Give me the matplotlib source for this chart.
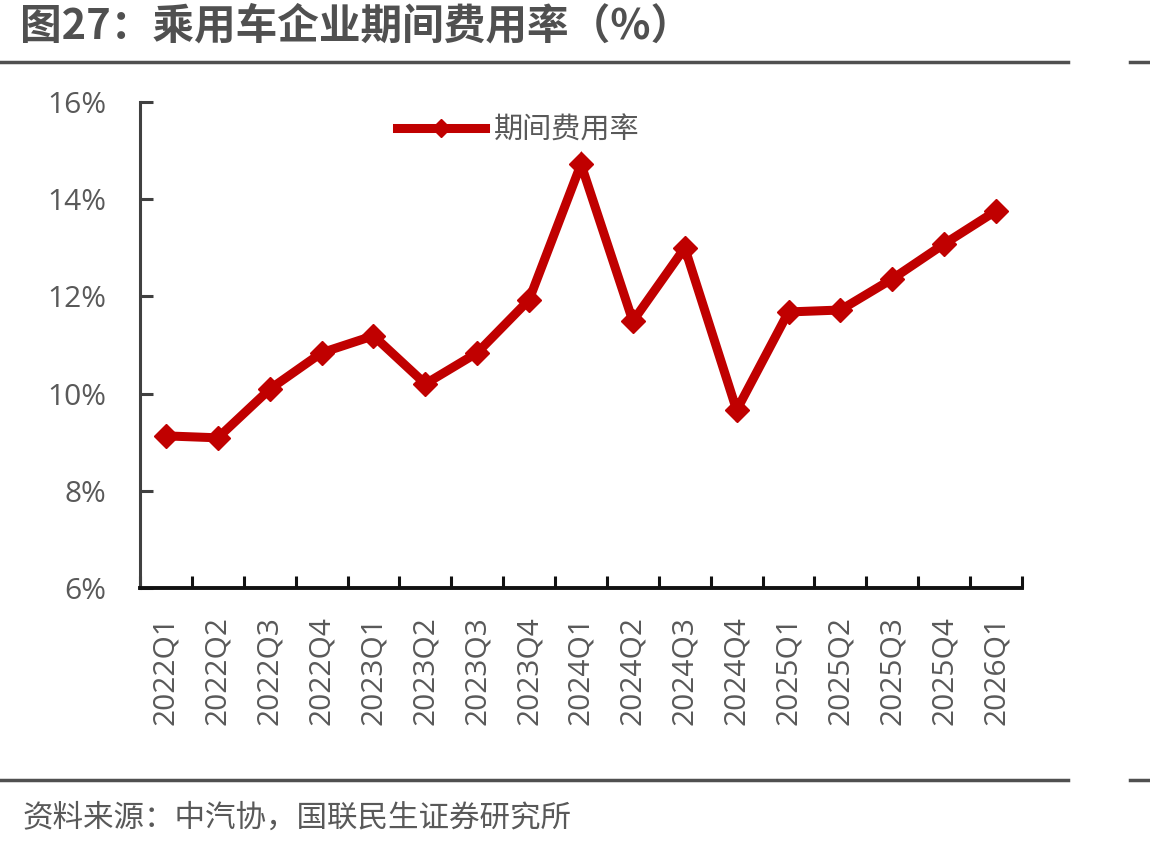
import matplotlib.pyplot as plt
from matplotlib.lines import Line2D
from matplotlib.ticker import FixedLocator, FuncFormatter

plt.rcParams['font.family'] = ['Noto Sans CJK SC', 'DejaVu Sans']

# data
quarters = ['2022Q1', '2022Q2', '2022Q3', '2022Q4', '2023Q1', '2023Q2', '2023Q3', '2023Q4',
            '2024Q1', '2024Q2', '2024Q3', '2024Q4', '2025Q1', '2025Q2', '2025Q3', '2025Q4',
            '2026Q1']
expense_rate = [9.13, 9.09, 10.09, 10.84, 11.19, 10.20, 10.84, 11.93,
                14.72, 11.49, 13.00, 9.66, 11.68, 11.72, 12.36, 13.08, 13.76]
y_ticks = [6, 8, 10, 12, 14, 16]

red = '#C00000'
gray = '#595959'

fig = plt.figure(figsize=(11.5, 8.47), dpi=100)
ax = fig.add_axes([140 / 1150, 1 - 588 / 847, 882 / 1150, 486 / 847])

x = list(range(len(quarters)))
ax.plot(x, expense_rate, color=red, lw=6.5, marker='D', markersize=12,
        solid_joinstyle='miter', label='期间费用率')

ax.set_xlim(-0.5, len(quarters) - 0.5)
ax.set_ylim(6, 16)
ax.set_yticks(y_ticks)
ax.yaxis.set_major_formatter(FuncFormatter(lambda v, p: f'{v:.0f}%'))
ax.set_xticks(x)
ax.set_xticklabels(quarters, rotation=90)
ax.xaxis.set_minor_locator(FixedLocator([i - 0.5 for i in range(len(quarters) + 1)]))

ax.tick_params(axis='x', which='major', length=0, labelsize=21.5, labelcolor=gray, pad=20)
ax.tick_params(axis='x', which='minor', direction='in', length=9, width=2.2, color='#111111')
ax.tick_params(axis='y', direction='in', length=9, width=2.2, color='#404040',
               labelsize=21.5, labelcolor=gray, pad=24)
for lab in ax.get_xticklabels() + ax.get_yticklabels():
    lab.set_family(['Open Sans', 'DejaVu Sans'])

for s in ['top', 'right']:
    ax.spines[s].set_visible(False)
ax.spines['left'].set_color('#404040')
ax.spines['left'].set_linewidth(2.2)
ax.spines['bottom'].set_color('#111111')
ax.spines['bottom'].set_linewidth(2.8)

leg = ax.legend(loc='center left', bbox_to_anchor=(0.262, 0.942), frameon=False,
                fontsize=21, handlelength=3.0, handletextpad=0.3, labelcolor=gray,
                markerscale=0.75)

# title and source
fig.text(20 / 1150, 1 - 27 / 847, '图27：乘用车企业期间费用率（%）', fontsize=30,
         fontweight='bold', color='#505050', va='center', ha='left')
fig.text(22 / 1150, 1 - 818 / 847, '资料来源：中汽协，国联民生证券研究所', fontsize=22,
         color=gray, va='center', ha='left')

for yy in [62, 780]:
    yf = 1 - yy / 847
    fig.add_artist(Line2D([0, 1068 / 1150], [yf, yf], color='#505050', lw=2.5))
    fig.add_artist(Line2D([1130 / 1150, 1], [yf, yf], color='#505050', lw=2.5))

fig.savefig('out.png', dpi=100)
